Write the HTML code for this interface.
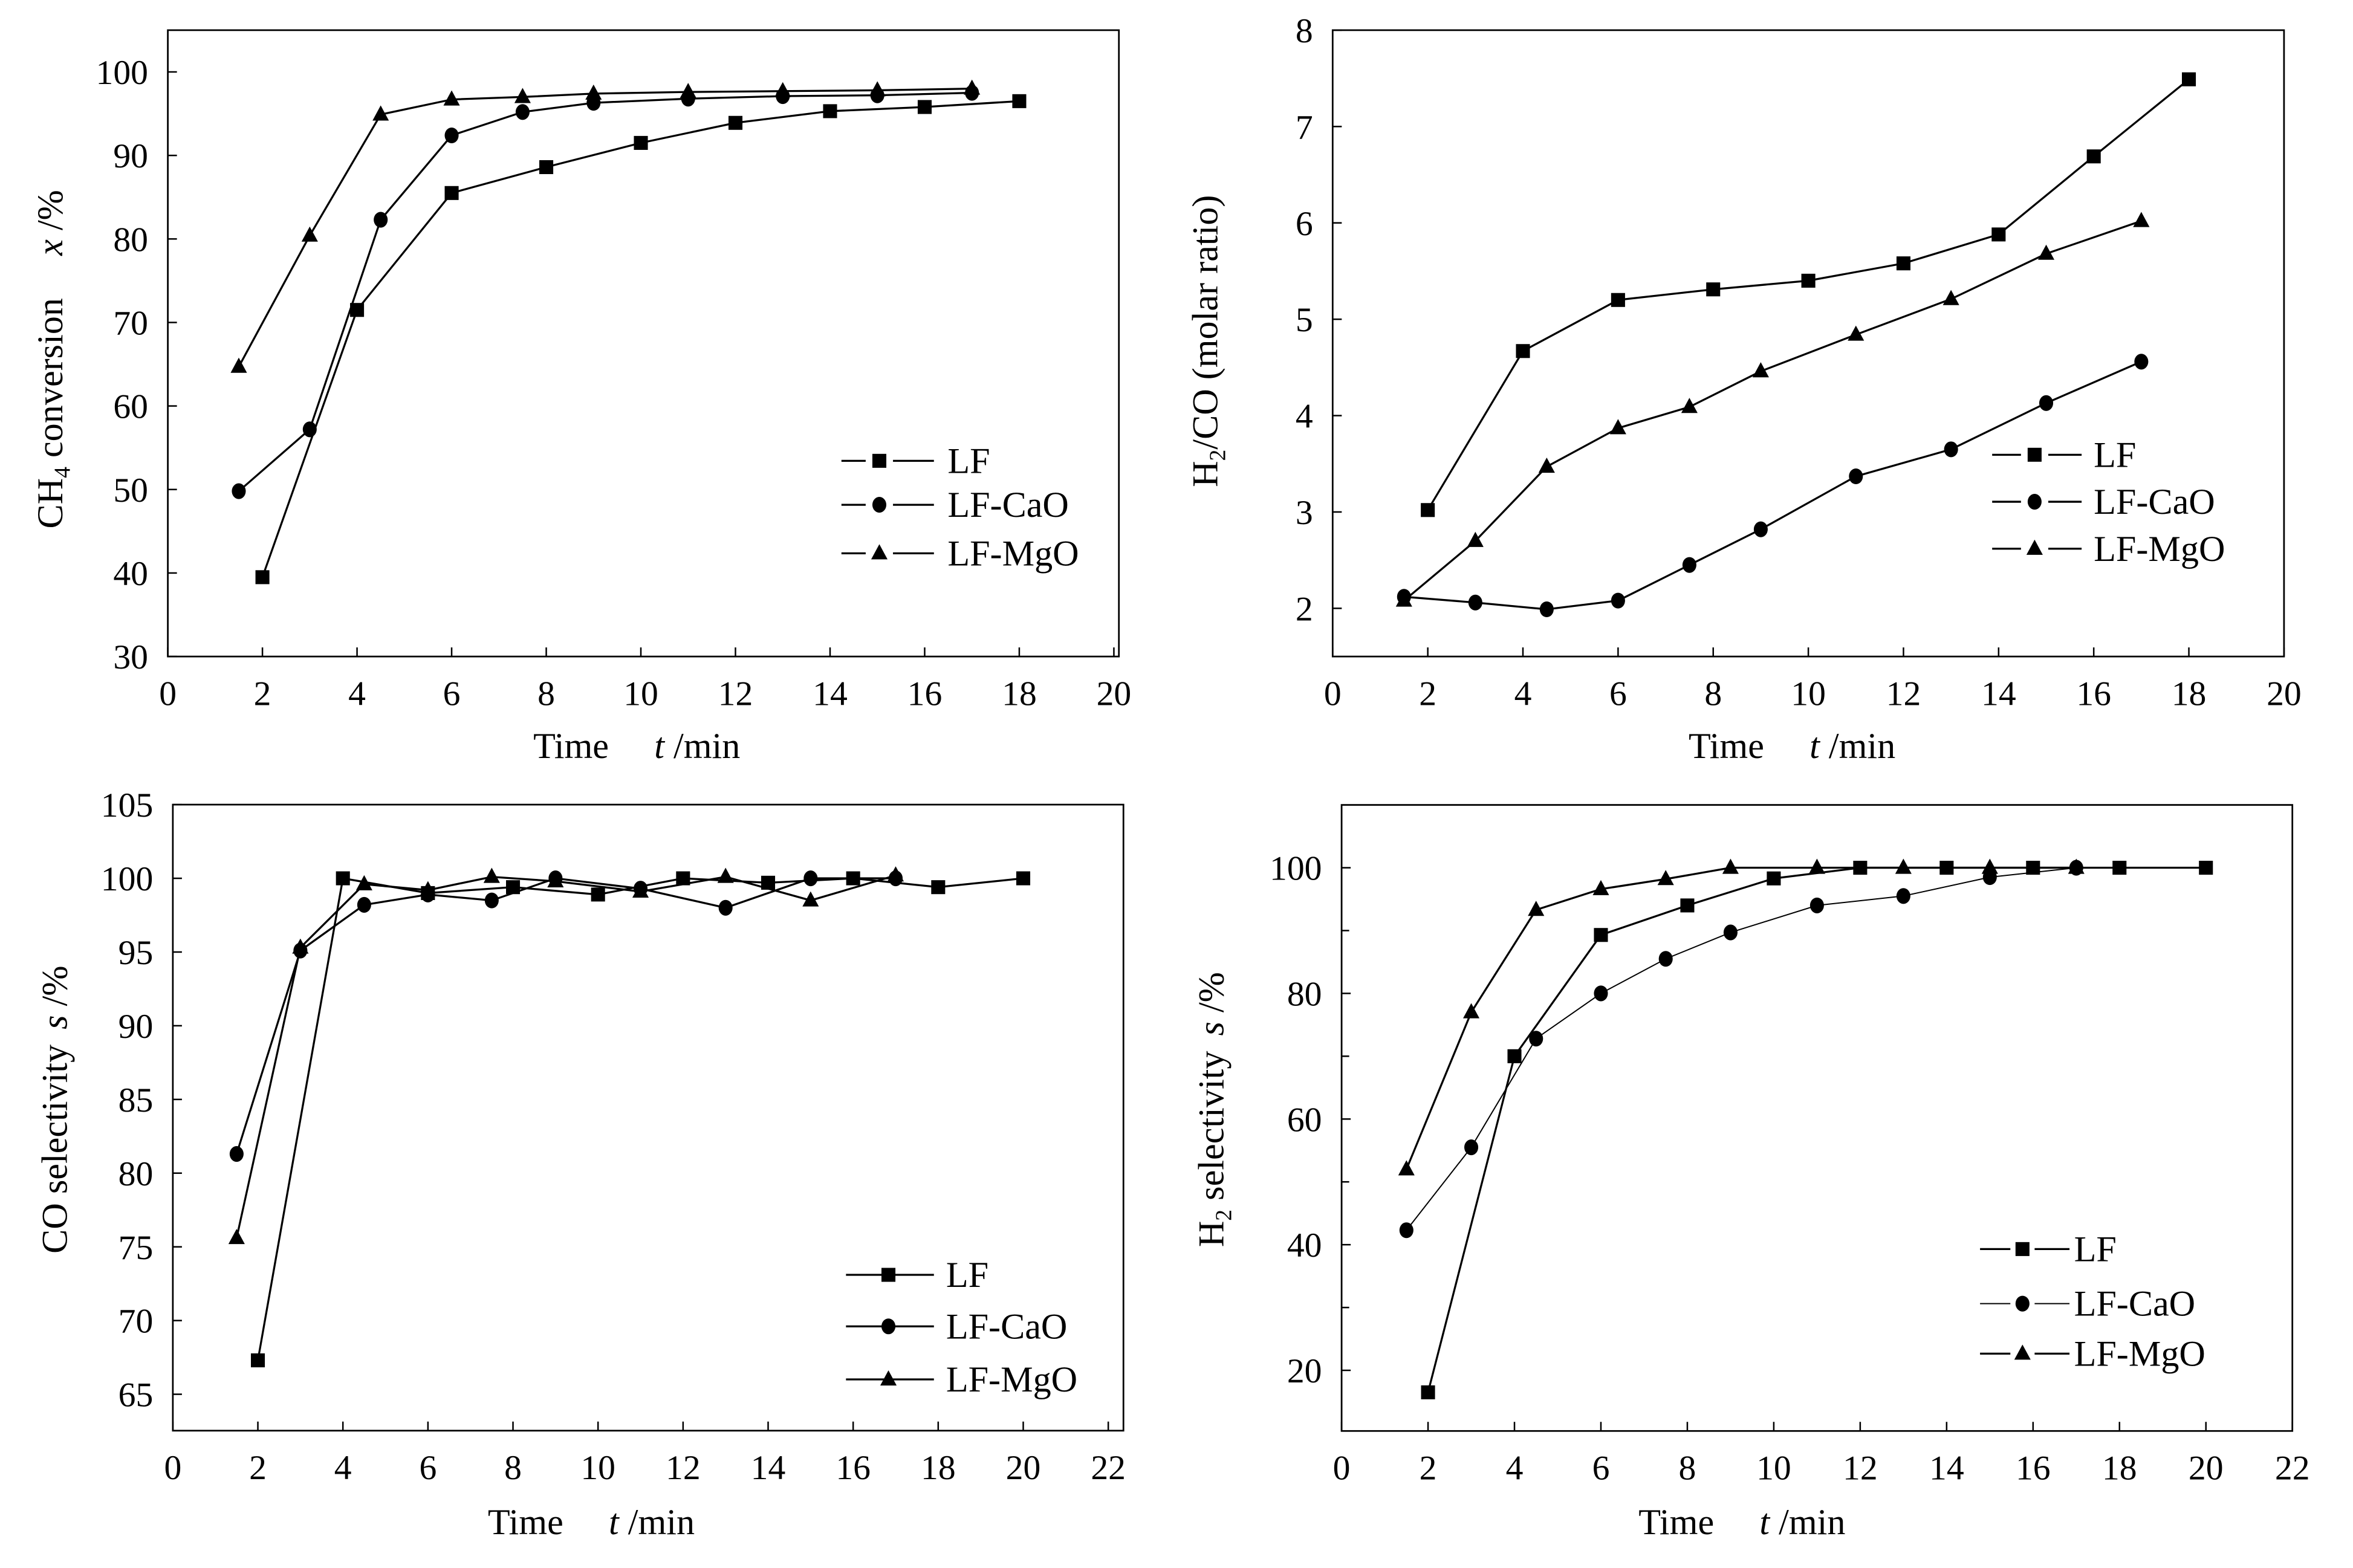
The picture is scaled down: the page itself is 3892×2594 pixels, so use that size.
<!DOCTYPE html>
<html><head><meta charset="utf-8"><style>
html,body{margin:0;padding:0;background:#fff}
svg{display:block}
text{font-family:"Liberation Serif",serif;fill:#000}
</style></head><body>
<svg id="fig" xmlns="http://www.w3.org/2000/svg" width="3892" height="2594" viewBox="0 0 1552 1034.4">
<rect width="1552" height="1034.4" fill="#fff"/>
</svg>
<script>
// ---- Panel data ----
const p1LFx=[2,4,6,8,10,12,14,16,18];
const p1LFy=[39.5,71.5,85.5,88.6,91.5,93.9,95.3,95.8,96.5];
const p1CaOx=[1.5,3,4.5,6,7.5,9,11,13,15,17];
const p1CaOy=[49.8,57.2,82.3,92.4,95.2,96.3,96.8,97.1,97.2,97.5];
const p1MgOx=[1.5,3,4.5,6,7.5,9,11,13,15,17];
const p1MgOy=[64.7,80.4,94.9,96.7,97.0,97.4,97.6,97.7,97.8,98.0];

const p2LFx=[2,4,6,8,10,12,14,16,18];
const p2LFy=[3.02,4.67,5.2,5.31,5.4,5.58,5.88,6.69,7.49];
const p2CaOx=[1.5,3,4.5,6,7.5,9,11,13,15,17];
const p2CaOy=[2.12,2.06,1.99,2.08,2.45,2.82,3.37,3.65,4.13,4.56];
const p2MgOx=[1.5,3,4.5,6,7.5,9,11,13,15,17];
const p2MgOy=[2.08,2.7,3.47,3.87,4.09,4.46,4.84,5.21,5.68,6.02];

const p3LFx=[2,4,6,8,10,12,14,16,18,20];
const p3LFy=[67.3,100,99.0,99.4,98.9,100,99.7,100,99.4,100];
const p3CaOx=[1.5,3,4.5,6,7.5,9,11,13,15,17];
const p3CaOy=[81.3,95.1,98.2,98.9,98.5,100,99.3,98.0,100,100];
const p3MgOx=[1.5,3,4.5,6,7.5,9,11,13,15,17];
const p3MgOy=[75.6,95.3,99.6,99.2,100.1,99.8,99.1,100.1,98.5,100.2];

const p4LFx=[2,4,6,8,10,12,14,16,18,20];
const p4LFy=[16.5,70,89.3,94,98.3,100,100,100,100,100];
const p4CaOx=[1.5,3,4.5,6,7.5,9,11,13,15,17];
const p4CaOy=[42.3,55.5,72.8,80,85.5,89.7,94,95.5,98.5,100];
const p4MgOx=[1.5,3,4.5,6,7.5,9,11,13,15,17];
const p4MgOy=[52,77,93.3,96.6,98.2,100,100,100,100,100];

const xTicks20=[0,2,4,6,8,10,12,14,16,18,20];
const xTicks22=[0,2,4,6,8,10,12,14,16,18,20,22];
const p1YTicks=[30,40,50,60,70,80,90,100];
const p2YTicks=[2,3,4,5,6,7,8];
const p3YTicks=[65,70,75,80,85,90,95,100,105];
const p4YTicks=[20,40,60,80,100];
const p4YMinor=[30,50,70,90];
const seriesNames=["LF","LF-CaO","LF-MgO"];

const NS="http://www.w3.org/2000/svg";
const svg=document.getElementById('fig');
function mk(tag,attrs,parent){const e=document.createElementNS(NS,tag);for(const k in attrs)e.setAttribute(k,attrs[k]);(parent||svg).appendChild(e);return e;}

function marker(g,type,x,y){
  let m;
  if(type===0){m=mk('rect',{x:x-4.6,y:y-4.6,width:9.2,height:9.2,fill:'#000'},g);}
  else if(type===1){m=mk('ellipse',{cx:x,cy:y,rx:4.6,ry:5.2,fill:'#000'},g);}
  else {m=mk('polygon',{points:`${x},${y-6} ${x-5.4},${y+4} ${x+5.4},${y+4}`,fill:'#000'},g);}
  
  
}

function panel(cfg){
  const g=mk('g',{});
  
  
  const X=v=>cfg.L+(v-cfg.xmin)/(cfg.xmax-cfg.xmin)*(cfg.XR-cfg.L);
  const Y=v=>cfg.B-(v-cfg.ymin)/(cfg.ymax-cfg.ymin)*(cfg.B-cfg.T);
  const frame=mk('rect',{x:cfg.L,y:cfg.T,width:cfg.R-cfg.L,height:cfg.B-cfg.T,fill:'none',stroke:'#000','stroke-width':1.1},g);
  
  
  cfg.xt.forEach(v=>{
    const t=mk('line',{x1:X(v),x2:X(v),y1:cfg.B,y2:cfg.B-6,stroke:'#000','stroke-width':1},g);
    
    
    const l=mk('text',{x:X(v),y:cfg.B+32,'text-anchor':'middle','font-size':23},g);
    l.textContent=v;
    
    
  });
  cfg.yt.forEach(v=>{
    const t=mk('line',{x1:cfg.L,x2:cfg.L+6,y1:Y(v),y2:Y(v),stroke:'#000','stroke-width':1},g);
    
    
    const l=mk('text',{x:cfg.L-13,y:Y(v)+8,'text-anchor':'end','font-size':23},g);
    l.textContent=v;
    
    
  });
  (cfg.ym||[]).forEach(v=>{
    const t=mk('line',{x1:cfg.L,x2:cfg.L+5,y1:Y(v),y2:Y(v),stroke:'#000','stroke-width':1},g);
    
    
  });
  cfg.series.forEach((s,i)=>{
    const pts=s[0].map((x,j)=>X(x)+','+Y(s[1][j])).join(' ');
    const pl=mk('polyline',{points:pts,fill:'none',stroke:'#000','stroke-width':cfg.sw[i]},g);
    
    
    s[0].forEach((x,j)=>marker(g,i,X(x),Y(s[1][j])));
  });
  const gap=cfg.leg.gap;
  cfg.leg.ys.forEach((ly,i)=>{
    const ln=mk('line',{x1:cfg.leg.x1,x2:cfg.leg.mx-gap,y1:ly,y2:ly,stroke:'#000','stroke-width':cfg.sw[i]},g);
    
    
    const ln2=mk('line',{x1:cfg.leg.mx+gap,x2:cfg.leg.x2,y1:ly,y2:ly,stroke:'#000','stroke-width':cfg.sw[i]},g);
    
    
    marker(g,i,cfg.leg.mx,ly);
    const t=mk('text',{x:cfg.leg.tx,y:ly+8,'font-size':24},g);
    t.textContent=seriesNames[i];
    
    
  });
  const xt=mk('text',{x:cfg.xtx,y:cfg.xty,'font-size':24,'text-anchor':'middle'},g);
  xt.innerHTML='Time<tspan dx="30" font-style="italic">t</tspan><tspan> /min</tspan>';
  
  
  const yt=mk('text',{x:0,y:0,'font-size':24,'text-anchor':'middle',transform:`translate(${cfg.ytx},${cfg.yty}) rotate(-90)`},g);
  yt.innerHTML=cfg.ytitle;
  
  
}

panel({name:'panel-ch4-conversion',L:110.7,R:738,XR:734.7,T:19.9,B:433.1,xmin:0,xmax:20,ymin:30,ymax:105,
  xt:xTicks20,yt:p1YTicks,sw:[1.3,1.3,1.3],
  series:[[p1LFx,p1LFy],[p1CaOx,p1CaOy],[p1MgOx,p1MgOy]],
  leg:{x1:555,x2:616,mx:580,tx:625,gap:9,ys:[304,333,365]},
  xtx:420,xty:500,ytx:41,yty:237,
  ytitle:'CH<tspan font-size="15" dy="5">4</tspan><tspan dy="-5"> conversion</tspan><tspan dx="28" font-style="italic">x</tspan><tspan> /%</tspan>'});

panel({name:'panel-h2-co-ratio',L:879,R:1506.5,XR:1506.5,T:19.9,B:433.1,xmin:0,xmax:20,ymin:1.5,ymax:8,
  xt:xTicks20,yt:p2YTicks,sw:[1.3,1.3,1.3],
  series:[[p2LFx,p2LFy],[p2CaOx,p2CaOy],[p2MgOx,p2MgOy]],
  leg:{x1:1314,x2:1373,mx:1342,tx:1381,gap:9,ys:[300,331,362]},
  xtx:1182,xty:500,ytx:803,yty:225,
  ytitle:'H<tspan font-size="15" dy="5">2</tspan><tspan dy="-5">/CO (molar ratio)</tspan>'});

panel({name:'panel-co-selectivity',L:114,R:741,XR:731,T:530.8,B:943.8,xmin:0,xmax:22,ymin:62.53,ymax:105,
  xt:xTicks22,yt:p3YTicks,sw:[1.3,1.3,1.3],
  series:[[p3LFx,p3LFy],[p3CaOx,p3CaOy],[p3MgOx,p3MgOy]],
  leg:{x1:558,x2:616,mx:586,tx:624,gap:0,ys:[841,875,910]},
  xtx:390,xty:1012,ytx:44,yty:732,
  ytitle:'CO selectivity<tspan dx="10" font-style="italic">s</tspan><tspan> /%</tspan>'});

panel({name:'panel-h2-selectivity',L:884.9,R:1512,XR:1512,T:531,B:944,xmin:0,xmax:22,ymin:10.35,ymax:110,
  xt:xTicks22,yt:p4YTicks,ym:p4YMinor,sw:[1.3,0.8,1.3],
  series:[[p4LFx,p4LFy],[p4CaOx,p4CaOy],[p4MgOx,p4MgOy]],
  leg:{x1:1306,x2:1365,mx:1334,tx:1368,gap:8,ys:[824,860,893]},
  xtx:1149,xty:1012,ytx:807,yty:732,
  ytitle:'H<tspan font-size="15" dy="5">2</tspan><tspan dy="-5"> selectivity</tspan><tspan dx="10" font-style="italic">s</tspan><tspan> /%</tspan>'});
</script>
</body></html>
